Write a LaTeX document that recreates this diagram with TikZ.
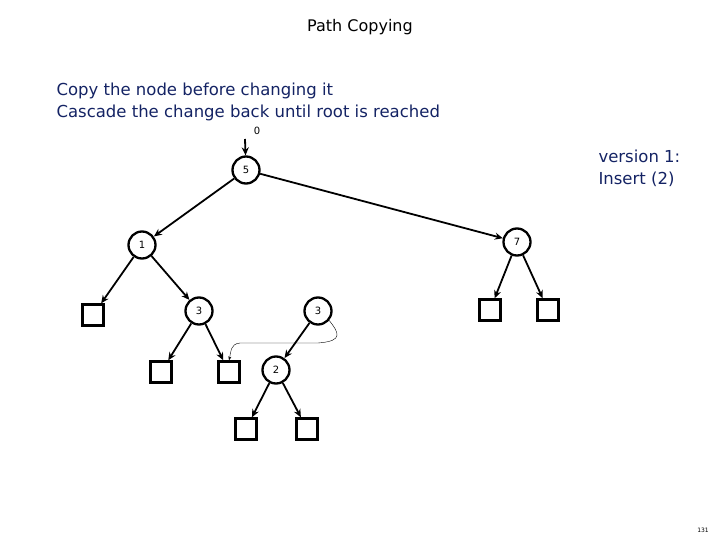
\documentclass[tikz,border=0pt]{standalone}
\usepackage{fontspec}
\setmainfont{DejaVu Sans}
\usetikzlibrary{arrows.meta}
\definecolor{navy}{RGB}{20,35,100}
\begin{document}
\begin{tikzpicture}[x=1pt,y=-1pt,
  cn/.style={circle,draw,line width=2.3pt,minimum size=27pt,inner sep=0pt,font=\fontsize{10}{10}\selectfont},
  leaf/.style={rectangle,draw,line width=2.3pt,minimum size=21pt,inner sep=0pt},
  edge/.style={line width=1.8pt,-{Stealth[length=8pt,width=7pt]}}]
\useasboundingbox (0,0) rectangle (720,540);
\node (title) at (360,27) {\fontsize{16}{16}\selectfont Path Copying};
\node[anchor=west,text=navy,align=left,font=\fontsize{16.5}{22}\selectfont] (txt) at (53,102) {Copy the node before changing it\\Cascade the change back until root is reached};
\node[anchor=west,text=navy,align=left,font=\fontsize{16.5}{22}\selectfont] (ver) at (595,168) {version 1:\\Insert (2)};
\node[font=\fontsize{10}{10}\selectfont] (zero) at (257,131) {0};
\coordinate (top) at (245,139);
\node[cn] (n5) at (246,170) {5};
\node[cn] (n1) at (142,245) {1};
\node[cn] (n7) at (517,242) {7};
\node[cn] (n3a) at (199,311) {3};
\node[cn] (n3b) at (318,311) {3};
\node[cn] (n2) at (276,370) {2};
\node[leaf] (l1) at (93,315) {};
\node[leaf] (l2) at (490,310) {};
\node[leaf] (l3) at (548,310) {};
\node[leaf] (l4) at (161,372) {};
\node[leaf] (l5) at (229,372) {};
\node[leaf] (l6) at (246,429) {};
\node[leaf] (l7) at (307,429) {};
\node[font=\fontsize{6}{6}\selectfont] (pg) at (703,530) {131};
\draw[edge] (top) -- (n5);
\draw[edge] (n5) -- (n1);
\draw[edge] (n5) -- (n7);
\draw[edge] (n1) -- (l1);
\draw[edge] (n1) -- (n3a);
\draw[edge] (n7) -- (l2);
\draw[edge] (n7) -- (l3);
\draw[edge] (n3a) -- (l4);
\draw[edge] (n3a) -- (l5);
\draw[edge] (n3b) -- (n2);
\draw[edge] (n2) -- (l6);
\draw[edge] (n2) -- (l7);
\draw[thin,-{Stealth[length=4pt,width=3pt]}] (n3b.-40) .. controls (338,332) and (345,341) .. (318,343) -- (240,343) .. controls (230,344) and (231,352) .. (l5.north);
\end{tikzpicture}
\end{document}
